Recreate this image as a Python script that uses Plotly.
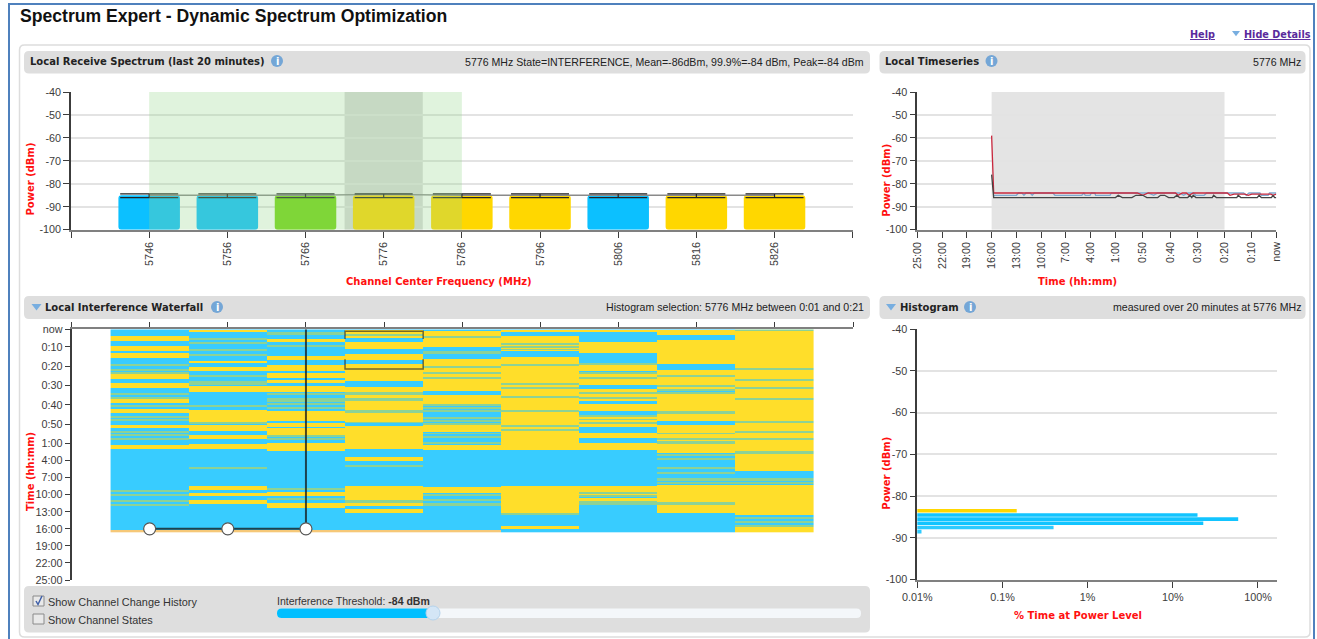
import plotly.graph_objects as go
from plotly.subplots import make_subplots

W, H = 1317, 639

# Receive spectrum
channels = [5746, 5756, 5766, 5776, 5786, 5796, 5806, 5816, 5826]
channel_ticks = [5736] + channels + [5836]
channel_ticktext = [""] + [str(c) for c in channels] + [""]
bar_tops = [-85, -85, -85, -85, -85, -85, -85, -85, -85]
bar_colors = ["#0cc0ff", "#0cc0ff", "#74d613", "#ffd700", "#ffd700", "#ffd700", "#0cc0ff", "#ffd700", "#ffd700"]
mean_line = [-85, -85, -85, -84.6, -85, -85, -85, -85, -85]
whisker_mid = [-85.2, -85.2, -85.2, -85.2, -85.2, -85.2, -85.2, -85.2, -85.2]
whisker_half = [0.8, 0.8, 0.8, 0.8, 0.8, 0.8, 0.8, 0.8, 0.8]
allowed_band = [5746, 5786]
selected_band = [5771, 5781]

power_ticks = [-40, -50, -60, -70, -80, -90, -100]
power_ticktext = ["-40", "-50", "-60", "-70", "-80", "-90", "-100"]

# Time axis, minutes before now (the newest tick sits one minute back)
time_ticks = [1500, 1320, 1140, 960, 780, 600, 420, 240, 60, 50, 40, 30, 20, 10, 1]
time_ticktext = ["25:00", "22:00", "19:00", "16:00", "13:00", "10:00", "7:00", "4:00",
                 "1:00", "0:50", "0:40", "0:30", "0:20", "0:10", "now"]
time_window = [960, 20]

# Local timeseries
peak_t = [960, 945, 52, 50, 48, 38, 37, 35.5, 34, 33, 31.5, 19, 18, 16.5, 12.5, 11.3, 10, 3, 2.2, 1.5, 1]
peak_v = [-59, -84, -84, -85, -84, -84, -85, -84, -84, -85, -84, -84, -85, -84.5, -84.5, -85, -84.5, -84.5, -85, -84.5, -84.5]
p99_t = [943, 780, 765, 740, 725, 710, 680, 665, 650, 515, 500, 305, 290, 280, 245, 235, 210, 205, 100, 90, 48, 46,
         44.5, 36.5, 35, 33.5, 31.5, 30.5, 27.5, 26.5, 13, 12, 11, 7, 6.5, 4, 3.5, 1]
p99_v = [-85, -85, -84, -84, -85, -84, -84, -85, -84, -84, -85, -85, -84, -85, -85, -84, -84, -85, -85, -84, -84, -85,
         -84, -84, -85, -84, -84, -85, -85, -84, -84, -85, -84, -84, -85, -85, -84, -84]
mean_t = [960, 945, 60, 59, 57.5, 54, 52.5, 50, 48.5, 44.5, 43.5, 42, 40.5, 38.5, 37.5, 36.5, 33.5, 32.7, 32, 31.5,
          30.5, 24.5, 24, 23, 15.5, 15, 14, 8, 7.3, 6.5, 2.8, 2.2, 1.6, 1]
mean_v = [-76, -86, -86, -85, -86, -86, -85, -85, -86, -86, -85, -85, -86, -86, -85, -86, -86, -85, -86, -85,
          -86, -86, -85, -86, -86, -85, -86, -86, -85, -86, -86, -85, -86, -86]

# Histogram
hist_power = [-83.5, -84.5, -85.5, -86.5, -87.5, -88.5]
hist_pct = [0.147, 19.5, 58.6, 22.8, 0.398, 0.0112]
hist_colors = ["#ffd700", "#12c4ff", "#12c4ff", "#12c4ff", "#2ecbff", "#2ecbff"]
pct_ticks = [0.01, 0.1, 1, 10, 100]
pct_ticktext = ["0.01%", "0.1%", "1%", "10%", "100%"]

# Waterfall, one row per screen line counted down from "now": (first row, end row)
solid_rows = [
    [(7, 12), (17, 22), (24, 29), (45, 50), (54, 59), (70, 74), (80, 84), (96, 99), (116, 120)],
    [(1, 3), (32, 34), (38, 42), (57, 63), (81, 93), (96, 102), (106, 110), (115, 120), (157, 161), (164, 167), (171, 175)],
    [(10, 13), (27, 31), (36, 42), (44, 49), (51, 54), (57, 63), (82, 92), (94, 98), (99, 106), (114, 122), (163, 167), (174, 179)],
    [(1, 5), (7, 9), (13, 20), (25, 31), (35, 52), (58, 63), (66, 69), (72, 81), (84, 93), (97, 120), (128, 132), (157, 171), (174, 177), (180, 184)],
    [(2, 7), (9, 18), (30, 37), (39, 43), (45, 48), (50, 62), (66, 75), (96, 103), (116, 121), (158, 164)],
    [(1, 3), (7, 14), (16, 17), (19, 20), (21, 22), (28, 35), (37, 54), (56, 58), (60, 67), (69, 81), (83, 96), (98, 100), (102, 121), (157, 184), (197, 200)],
    [(1, 3), (13, 24), (36, 42), (45, 48), (50, 56), (60, 63), (65, 68), (70, 72), (75, 82), (88, 90), (91, 93), (95, 98), (104, 109), (114, 121), (157, 163), (165, 166), (169, 172)],
    [(1, 6), (11, 35), (41, 46), (48, 56), (58, 60), (65, 82), (85, 92), (96, 104), (105, 109), (111, 112), (115, 124), (156, 173), (176, 184)],
    [(2, 39), (41, 50), (52, 58), (60, 69), (71, 92), (94, 102), (104, 109), (111, 122), (125, 142), (156, 186), (198, 203)],
]
thin_rows = [
    [(35, 37), (40, 42), (43, 45), (64, 66), (68, 70), (76, 78), (87, 89), (90, 92), (102, 104), (105, 107), (109, 111), (161, 163), (165, 167), (171, 173), (175, 177)],
    [(9, 11), (13, 15), (20, 22), (25, 27), (46, 48), (52, 56), (76, 78), (93, 95), (138, 140)],
    [(3, 6), (16, 18), (64, 66), (69, 73), (74, 76), (78, 80), (106, 108), (109, 111), (159, 161), (169, 171)],
    [(5, 7), (63, 66), (69, 72), (81, 84), (93, 94), (136, 138), (171, 174)],
    [(7, 9), (22, 25), (37, 39), (43, 45), (48, 50), (75, 77), (78, 80), (81, 83), (88, 90), (91, 93), (94, 96), (104, 105), (107, 109), (113, 115), (165, 167), (170, 172), (174, 177)],
    [(14, 16), (17, 19), (20, 21), (35, 37), (54, 56), (58, 60), (67, 69), (81, 83), (96, 98), (100, 102), (184, 186)],
    [(34, 36), (43, 45), (48, 50), (63, 65), (68, 70), (86, 88), (90, 91), (93, 95), (163, 165), (166, 168), (172, 176)],
    [(46, 48), (56, 58), (60, 62), (63, 65), (82, 85), (104, 105), (109, 111), (112, 115), (125, 127), (129, 131), (138, 140), (143, 145), (149, 152), (153, 155), (173, 176)],
    [(0, 2), (39, 41), (50, 52), (58, 60), (69, 71), (92, 94), (102, 104), (109, 111), (122, 125), (149, 152), (153, 155), (188, 190), (192, 194), (196, 198)],
]
edge_rows = [(201, 203), (201, 203), (201, 203), (201, 203), (201, 203), None, None, None, None]
waterfall_row_count = 203

history_channels = [5746, 5756, 5766, 5766]
history_times = [960, 960, 960, 1]
selection_channels = [5771, 5771, 5781, 5781, None, 5771, 5771, 5781, 5781]
selection_times = [6, 2, 2, 6, None, 16.5, 21.5, 21.5, 16.5]

RED = "#ff1010"
INK = "#3c3c3c"
HEAD = "DejaVu Sans"
SANS = "Liberation Sans"
TS_SCALE = 1.1
WF_SCALE = 1.135


# hours and minutes share the axis at two different scales
def time_pos(minutes, scale=TS_SCALE):
    if minutes <= 60:
        return (minutes - 1) / 10 * scale
    return 5.9 * scale + (minutes - 60) / 180


ts_span = time_pos(1500)
wf_span = time_pos(1500, WF_SCALE)
row_step = wf_span / 250.7

z = [[0] * len(channels) for _ in range(waterfall_row_count)]
for col in range(len(channels)):
    for level, bands in ((2, solid_rows[col]), (1, thin_rows[col]), (3, [edge_rows[col]] if edge_rows[col] else [])):
        for first, end in bands:
            for r in range(first, end):
                z[r][col] = level


def px(x):
    return x / W


def py(y):
    return 1 - y / H


def round_rect(x0, y0, x1, y1, r, fill, line=None, width=1):
    path = (f"M {px(x0 + r)} {py(y0)} L {px(x1 - r)} {py(y0)} Q {px(x1)} {py(y0)} {px(x1)} {py(y0 + r)} "
            f"L {px(x1)} {py(y1 - r)} Q {px(x1)} {py(y1)} {px(x1 - r)} {py(y1)} "
            f"L {px(x0 + r)} {py(y1)} Q {px(x0)} {py(y1)} {px(x0)} {py(y1 - r)} "
            f"L {px(x0)} {py(y0 + r)} Q {px(x0)} {py(y0)} {px(x0 + r)} {py(y0)} Z")
    fig.add_shape(type="path", path=path, xref="paper", yref="paper", fillcolor=fill, layer="below",
                  line=dict(color=line or "rgba(0,0,0,0)", width=width))


def triangle(x, y, size=5, color="#78aee0"):
    path = f"M {px(x - size)} {py(y - size * 0.6)} L {px(x + size)} {py(y - size * 0.6)} L {px(x)} {py(y + size * 0.7)} Z"
    fig.add_shape(type="path", path=path, xref="paper", yref="paper", fillcolor=color, line_width=0)


def label(x, y, text, size=11, color="#222222", family=SANS, anchor="left", angle=0):
    fig.add_annotation(x=px(x), y=py(y), xref="paper", yref="paper", text=text, showarrow=False,
                       xanchor=anchor, yanchor="middle", textangle=angle, borderpad=0,
                       font=dict(family=family, size=size, color=color))


def info_icon(x, y):
    fig.add_shape(type="circle", xref="paper", yref="paper", x0=px(x - 6), x1=px(x + 6), y0=py(y + 6), y1=py(y - 6),
                  fillcolor="#74a6d6", line_width=0)
    label(x, y, "<b>i</b>", size=10, color="white", family=HEAD, anchor="center")


def hline_box(x0, y0, x1, y1, fill, line):
    fig.add_shape(type="rect", xref="paper", yref="paper", x0=px(x0), x1=px(x1), y0=py(y1), y1=py(y0),
                  fillcolor=fill, line=dict(color=line, width=1))


fig = make_subplots(rows=2, cols=2)

# Spectrum
fig.add_trace(go.Bar(x=channels, y=[t + 100 for t in bar_tops], base=-100, width=7.87,
                     marker=dict(color=bar_colors, line_width=0, cornerradius=3), showlegend=False), row=1, col=1)
fig.add_trace(go.Scatter(x=channels, y=mean_line, mode="lines", line=dict(color="#8a8a8a", width=1.4),
                         showlegend=False), row=1, col=1)
fig.add_trace(go.Scatter(x=channels, y=whisker_mid, mode="markers", marker=dict(size=1, opacity=0),
                         error_y=dict(type="data", array=whisker_half, width=29, thickness=1.2, color="#222222"),
                         showlegend=False), row=1, col=1)
fig.add_shape(type="rect", xref="x", yref="y", x0=selected_band[0], x1=selected_band[1], y0=-100, y1=-40,
              fillcolor="#dadada", line_width=0, layer="below")
fig.add_shape(type="rect", xref="x", yref="y", x0=allowed_band[0], x1=allowed_band[1], y0=-100, y1=-40,
              fillcolor="rgba(152,215,142,0.3)", line_width=0, layer="above")

# Timeseries
ts_styles = ((p99_t, p99_v, "#7fa9cf"), (peak_t, peak_v, "#c9283e"), (mean_t, mean_v, "#444444"))
for ts, vals, col in ts_styles:
    fig.add_trace(go.Scatter(x=[time_pos(t) for t in ts], y=vals, mode="lines", line=dict(color=col, width=1.3),
                             showlegend=False), row=1, col=2)
fig.add_shape(type="rect", xref="x2", yref="y2", x0=time_pos(time_window[0]), x1=time_pos(time_window[1]),
              y0=-100, y1=-40, fillcolor="#e4e4e4", line_width=0, layer="below")

# Waterfall
fig.add_trace(go.Heatmap(z=z, x=channels, y0=row_step / 2, dy=row_step, zmin=-0.5, zmax=3.5, showscale=False,
                         colorscale=[[0, "#38ccff"], [0.25, "#38ccff"], [0.25, "#8dd295"], [0.5, "#8dd295"],
                                     [0.5, "#ffde2a"], [0.75, "#ffde2a"], [0.75, "#f6c878"], [1, "#f6c878"]]),
              row=2, col=1)
fig.add_trace(go.Scatter(x=selection_channels, y=[None if t is None else time_pos(t, WF_SCALE) for t in selection_times],
                         mode="lines", line=dict(color="rgba(40,40,40,0.65)", width=1.5), showlegend=False),
              row=2, col=1)
fig.add_trace(go.Scatter(x=history_channels, y=[time_pos(t, WF_SCALE) for t in history_times], mode="lines+markers",
                         line=dict(color="rgba(20,20,20,0.75)", width=2),
                         marker=dict(size=[12, 12, 12, 0], color="#ffffff", opacity=1, line=dict(color="#555555", width=1.2)),
                         showlegend=False), row=2, col=1)

# Histogram
fig.add_trace(go.Bar(x=hist_pct, y=hist_power, orientation="h", width=0.85,
                     marker=dict(color=hist_colors, line_width=0), showlegend=False), row=2, col=2)

axis_font = dict(family=SANS, size=10.8, color=INK)
power_axis = dict(range=[-100, -40], tickmode="array", tickvals=power_ticks, ticktext=power_ticktext,
                  showgrid=True, gridcolor="#e3e3e3", gridwidth=2, zeroline=False, showline=True,
                  linecolor="#3c3c3c", linewidth=1.5, ticks="outside", ticklen=6, tickcolor="#3c3c3c",
                  tickfont=axis_font)
bottom_axis = dict(showgrid=False, zeroline=False, showline=True, linecolor="#808080", linewidth=2,
                   ticks="outside", ticklen=6, tickcolor="#3c3c3c", tickfont=axis_font)

fig.update_layout(
    template="none", width=W, height=H, autosize=False, margin=dict(l=0, r=0, t=0, b=0, pad=0),
    paper_bgcolor="white", plot_bgcolor="rgba(0,0,0,0)", showlegend=False, barmode="overlay",
    xaxis=dict(bottom_axis, domain=[px(71), px(852.7)], range=[5736, 5836], tickmode="array",
               tickvals=channel_ticks, ticktext=channel_ticktext, tickangle=-90),
    yaxis=dict(power_axis, domain=[py(229.7), py(92)]),
    xaxis2=dict(bottom_axis, domain=[px(917.3), px(1276.3)], range=[ts_span, 0], tickmode="array",
                tickvals=[time_pos(t) for t in time_ticks], ticktext=time_ticktext, tickangle=-90),
    yaxis2=dict(power_axis, domain=[py(229.7), py(92)]),
    xaxis3=dict(domain=[px(71.5), px(853)], range=[5736, 5836], side="top", tickmode="array",
                tickvals=channel_ticks, ticktext=[""] * len(channel_ticks), showline=True, linecolor="#808080",
                linewidth=2, ticks="outside", ticklen=5, tickcolor="#3c3c3c", showgrid=False, zeroline=False),
    yaxis3=dict(domain=[py(580), py(329.3)], range=[wf_span, 0], tickmode="array",
                tickvals=[time_pos(t, WF_SCALE) for t in time_ticks], ticktext=time_ticktext, showgrid=False,
                zeroline=False, showline=True, linecolor="#3c3c3c", linewidth=1.5, ticks="outside", ticklen=5,
                tickcolor="#3c3c3c", tickfont=axis_font),
    xaxis4=dict(bottom_axis, domain=[px(917.3), px(1276.7)], type="log", range=[-2, 2.22], tickmode="array",
                tickvals=pct_ticks, ticktext=pct_ticktext, tickangle=0),
    yaxis4=dict(power_axis, domain=[py(579.7), py(329)]),
)

# Page furniture
fig.add_shape(type="path", xref="paper", yref="paper", layer="below", line=dict(color="#4f81bd", width=2),
              path=f"M {px(9)} {py(639)} L {px(9)} {py(4)} L {px(1314)} {py(4)} L {px(1314)} {py(639)}")
round_rect(19.5, 45, 1310, 637, 5, "white", "#dddddd", 1.5)
round_rect(24, 51, 870, 73.5, 5, "#dedede")
round_rect(879.5, 51, 1305.5, 73.5, 5, "#dedede")
round_rect(24, 296, 870, 319, 5, "#dedede")
round_rect(879.5, 296, 1305.5, 319, 5, "#dedede")
round_rect(24, 586, 870, 632.5, 5, "#dedede")

label(19, 15.5, "<b>Spectrum Expert - Dynamic Spectrum Optimization</b>", size=17.6, color="#111111")
label(1189, 34.5, "<b><u>Help</u></b>", size=9.7, color="#5a2a9c", family=HEAD)
label(1243, 34.5, "<b><u>Hide Details</u></b>", size=9.7, color="#5a2a9c", family=HEAD)
triangle(1236, 33.5, size=4)

label(29, 61.5, "<b>Local Receive Spectrum (last 20 minutes)</b>", size=10, family=HEAD)
label(865, 62, "5776 MHz State=INTERFERENCE, Mean=-86dBm, 99.9%=-84 dBm, Peak=-84 dBm", size=10.6, anchor="right")
label(884, 61.5, "<b>Local Timeseries</b>", size=10, family=HEAD)
label(1302, 62, "5776 MHz", size=10.6, anchor="right")
label(44, 307, "<b>Local Interference Waterfall</b>", size=10, family=HEAD)
label(865, 307.5, "Histogram selection: 5776 MHz between 0:01 and 0:21", size=10.6, anchor="right")
label(899, 307, "<b>Histogram</b>", size=10, family=HEAD)
label(1302, 307.5, "measured over 20 minutes at 5776 MHz", size=10.6, anchor="right")
triangle(36.5, 307)
triangle(891, 307)
info_icon(277, 61)
info_icon(991.5, 61)
info_icon(217, 307)
info_icon(970, 307)

label(30, 179.5, "<b>Power (dBm)</b>", size=10, color=RED, family=HEAD, anchor="center", angle=-90)
label(438.5, 281, "<b>Channel Center Frequency (MHz)</b>", size=10, color=RED, family=HEAD, anchor="center")
label(885.7, 180, "<b>Power (dBm)</b>", size=10, color=RED, family=HEAD, anchor="center", angle=-90)
label(1077, 281, "<b>Time (hh:mm)</b>", size=10, color=RED, family=HEAD, anchor="center")
label(30, 472, "<b>Time (hh:mm)</b>", size=10, color=RED, family=HEAD, anchor="center", angle=-90)
label(885.7, 473, "<b>Power (dBm)</b>", size=10, color=RED, family=HEAD, anchor="center", angle=-90)
label(1077.7, 615, "<b>% Time at Power Level</b>", size=10, color=RED, family=HEAD, anchor="center")

# Controls
hline_box(33, 596, 44, 606, "#e9e9e9", "#8a8a8a")
fig.add_shape(type="path", xref="paper", yref="paper", line=dict(color="#3f5fa8", width=1.5),
              path=f"M {px(36)} {py(601)} L {px(38)} {py(604.5)} L {px(42)} {py(596)}")
hline_box(33, 614, 44, 624, "#e9e9e9", "#8a8a8a")
label(47, 601.5, "Show Channel Change History", size=10.9, color="#333333")
label(47, 619.5, "Show Channel States", size=10.9, color="#333333")
label(276, 601, "Interference Threshold: <b>-84 dBm</b>", size=10.5, color="#333333")
round_rect(277, 608.5, 861, 618, 4.5, "#f4f7fa")
round_rect(277, 608.5, 433, 618, 4.5, "#00bfff")
fig.add_shape(type="circle", xref="paper", yref="paper", x0=px(426), x1=px(440), y0=py(620), y1=py(606),
              fillcolor="#d4e6f6", line=dict(color="#b5d3ec", width=1))

fig.write_html("out.html", config={"displayModeBar": False},
               post_script="document.body.style.margin='0';document.body.style.overflow='hidden';")
